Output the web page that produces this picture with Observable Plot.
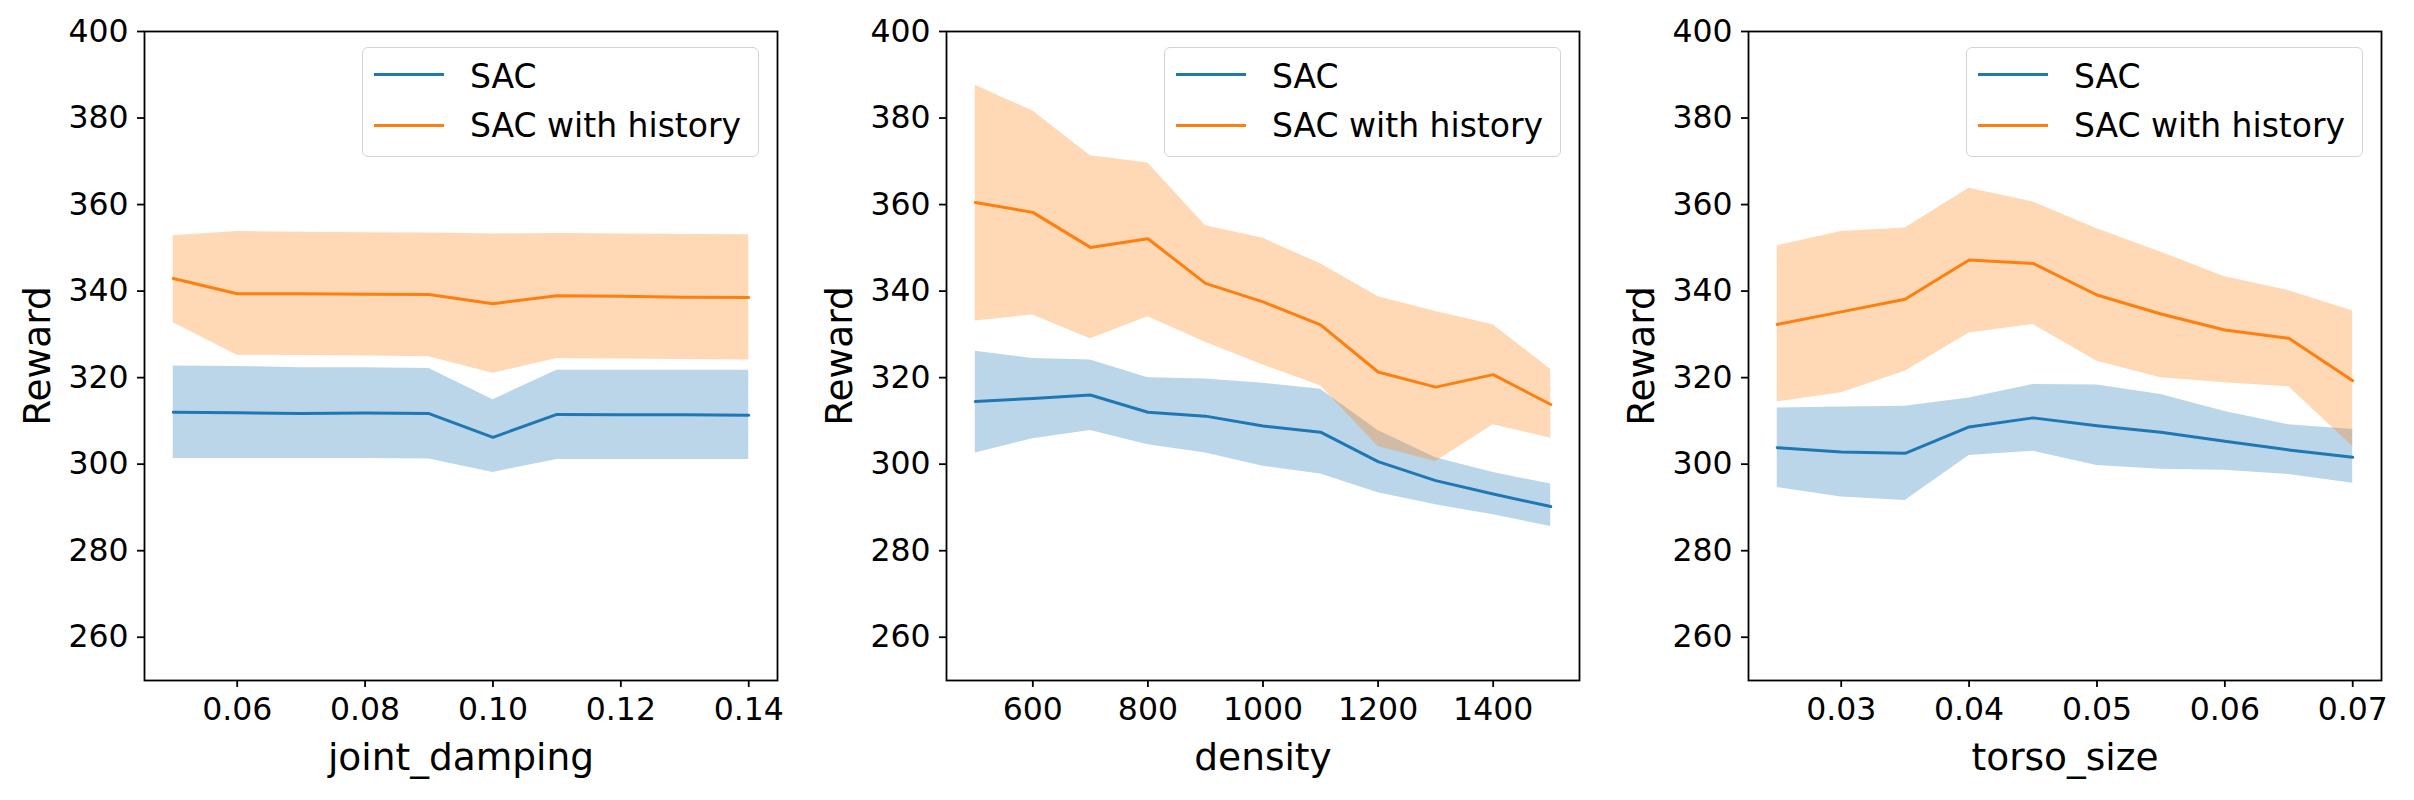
<!DOCTYPE html>
<html>
<head>
<meta charset="utf-8">
<script src="https://cdn.jsdelivr.net/npm/d3@7"></script>
<script src="https://cdn.jsdelivr.net/npm/@observablehq/plot@0.6"></script>
<style>
  html, body { margin: 0; padding: 0; background: #fff; }
  #wrap { position: relative; width: 2414px; height: 800px; font-family: "DejaVu Sans", sans-serif; overflow: hidden; }
  .panel { position: absolute; top: 0; width: 800px; height: 800px; }
  .panel svg { overflow: visible; }
  .panel g[aria-label="x-axis label"], .panel g[aria-label="y-axis label"] { font-size: 37.5px; }
  .legend { position: absolute; top: 47px; width: 397px; height: 110px; box-sizing: border-box;
            border: 1.5px solid #d4d4d4; border-radius: 6px; background: rgba(255,255,255,0.8); }
  .legend .swatch { position: absolute; left: 11px; width: 70px; height: 3px; }
  .legend .txt { position: absolute; left: 107px; font-size: 33px; line-height: 33px; color: #000; white-space: nowrap; }
</style>
</head>
<body>
<div id="wrap"></div>
<script>
// ---------------- data ----------------
const seriesNames = ["SAC", "SAC with history"];
const seriesColors = ["#1f77b4", "#ff7f0e"];
const yTicks = [260, 280, 300, 320, 340, 360, 380, 400];

// panel 1: joint_damping
const jointDamping = [0.05, 0.06, 0.07, 0.08, 0.09, 0.10, 0.11, 0.12, 0.13, 0.14];
const jdSacMean  = [312.0, 311.9, 311.7, 311.8, 311.7, 306.2, 311.5, 311.4, 311.4, 311.3];
const jdSacLow   = [301.3, 301.3, 301.3, 301.3, 301.2, 298.1, 301.1, 301.1, 301.1, 301.1];
const jdSacHigh  = [322.7, 322.6, 322.3, 322.3, 322.1, 314.9, 321.7, 321.7, 321.7, 321.7];
const jdHistMean = [342.9, 339.4, 339.4, 339.3, 339.2, 337.1, 338.9, 338.8, 338.6, 338.5];
const jdHistLow  = [332.7, 325.2, 325.1, 325.0, 324.8, 321.0, 324.4, 324.3, 324.2, 324.1];
const jdHistHigh = [352.8, 353.8, 353.6, 353.5, 353.4, 353.2, 353.3, 353.2, 353.1, 353.0];
const jdTicks = [0.06, 0.08, 0.10, 0.12, 0.14];

// panel 2: density
const density = [500, 600, 700, 800, 900, 1000, 1100, 1200, 1300, 1400, 1500];
const dnSacMean  = [314.5, 315.2, 316.0, 312.0, 311.1, 308.8, 307.4, 300.6, 296.2, 293.1, 290.2];
const dnSacLow   = [302.6, 305.9, 307.8, 304.5, 302.6, 299.5, 297.7, 293.4, 290.6, 288.3, 285.6];
const dnSacHigh  = [326.1, 324.4, 324.1, 320.0, 319.7, 318.7, 317.3, 307.8, 301.5, 298.1, 295.4];
const dnHistMean = [360.5, 358.2, 350.1, 352.1, 341.8, 337.5, 332.2, 321.3, 317.8, 320.7, 313.8];
const dnHistLow  = [333.1, 334.5, 329.0, 334.1, 328.2, 322.9, 318.1, 304.1, 300.6, 309.1, 306.0];
const dnHistHigh = [387.6, 381.6, 371.3, 369.6, 355.1, 352.2, 346.3, 338.7, 335.3, 332.2, 321.9];
const dnTicks = [600, 800, 1000, 1200, 1400];

// panel 3: torso_size
const torsoSize = [0.025, 0.030, 0.035, 0.040, 0.045, 0.050, 0.055, 0.060, 0.065, 0.070];
const tsSacMean  = [303.8, 302.8, 302.5, 308.6, 310.7, 308.9, 307.4, 305.3, 303.3, 301.6];
const tsSacLow   = [294.6, 292.4, 291.6, 302.0, 303.0, 299.7, 298.8, 298.6, 297.6, 295.6];
const tsSacHigh  = [313.0, 313.2, 313.4, 315.3, 318.4, 318.3, 316.1, 312.2, 309.1, 308.0];
const tsHistMean = [332.3, 335.2, 338.1, 347.2, 346.4, 339.1, 334.7, 331.0, 329.1, 319.3];
const tsHistLow  = [314.4, 316.5, 321.5, 330.3, 332.3, 323.8, 320.0, 318.8, 317.9, 304.1];
const tsHistHigh = [350.5, 353.8, 354.6, 363.8, 360.6, 354.4, 349.0, 343.3, 340.1, 335.4];
const tsTicks = [0.03, 0.04, 0.05, 0.06, 0.07];

const panels = [
  {xs: jointDamping, sac: [jdSacMean, jdSacLow, jdSacHigh], hist: [jdHistMean, jdHistLow, jdHistHigh],
   ticks: jdTicks, fmt: d3.format(".2f"), label: "joint_damping", left: 0},
  {xs: density, sac: [dnSacMean, dnSacLow, dnSacHigh], hist: [dnHistMean, dnHistLow, dnHistHigh],
   ticks: dnTicks, fmt: d3.format("d"), label: "density", left: 802},
  {xs: torsoSize, sac: [tsSacMean, tsSacLow, tsSacHigh], hist: [tsHistMean, tsHistLow, tsHistHigh],
   ticks: tsTicks, fmt: d3.format(".2f"), label: "torso_size", left: 1604}
];

const wrap = document.getElementById("wrap");

function rows(xs, [m, lo, hi]) {
  return xs.map((x, i) => ({x, m: m[i], lo: lo[i], hi: hi[i]}));
}

for (const p of panels) {
  const [x0, x1] = d3.extent(p.xs);
  const pad = (x1 - x0) * 0.05;
  const sac = rows(p.xs, p.sac);
  const hist = rows(p.xs, p.hist);
  const chart = Plot.plot({
    width: 800, height: 800,
    marginLeft: 144, marginRight: 23, marginTop: 31, marginBottom: 120,
    style: {fontFamily: "DejaVu Sans", fontSize: "31.5px", color: "#000", background: "transparent"},
    x: {domain: [x0 - pad, x1 + pad]},
    y: {domain: [250, 400]},
    marks: [
      Plot.areaY(sac, {x: "x", y1: "lo", y2: "hi", fill: seriesColors[0], fillOpacity: 0.3}),
      Plot.lineY(sac, {x: "x", y: "m", stroke: seriesColors[0], strokeWidth: 3}),
      Plot.areaY(hist, {x: "x", y1: "lo", y2: "hi", fill: seriesColors[1], fillOpacity: 0.3}),
      Plot.lineY(hist, {x: "x", y: "m", stroke: seriesColors[1], strokeWidth: 3}),
      Plot.frame({stroke: "#000", strokeWidth: 1.8}),
      Plot.axisX({ticks: p.ticks, tickFormat: p.fmt, tickSize: 7, tickPadding: 10, strokeWidth: 1.8,
                  label: p.label, labelAnchor: "center", labelArrow: "none", labelOffset: 89}),
      Plot.axisY({ticks: yTicks, tickSize: 7, tickPadding: 9, strokeWidth: 1.8,
                  label: "Reward", labelAnchor: "center", labelArrow: "none", labelOffset: 121})
    ]
  });
  const div = document.createElement("div");
  div.className = "panel";
  div.style.left = p.left + "px";
  div.appendChild(chart);
  wrap.appendChild(div);

  // legend
  const lg = document.createElement("div");
  lg.className = "legend";
  lg.style.left = (p.left + 362) + "px";
  const swTops = [25, 75.5];
  const txTops = [11.8, 61.1];
  seriesNames.forEach((name, i) => {
    const sw = document.createElement("div");
    sw.className = "swatch";
    sw.style.top = swTops[i] + "px";
    sw.style.background = seriesColors[i];
    lg.appendChild(sw);
    const tx = document.createElement("div");
    tx.className = "txt";
    tx.style.top = txTops[i] + "px";
    tx.textContent = name;
    lg.appendChild(tx);
  });
  wrap.appendChild(lg);
}
</script>
</body>
</html>
